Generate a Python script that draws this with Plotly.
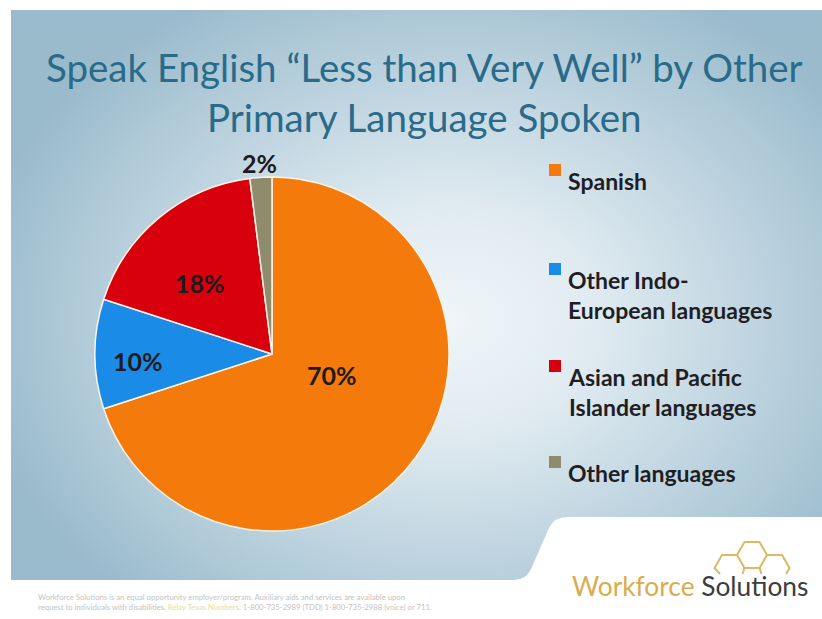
import base64
import math
import plotly.graph_objects as go

# Data
languages = [
    "Spanish",
    "Other Indo-European languages",
    "Asian and Pacific Islander languages",
    "Other languages",
]
legend_labels = [
    "Spanish",
    "Other Indo-<br>European languages",
    "Asian and Pacific<br>Islander languages",
    "Other languages",
]
share_pct = [70, 10, 18, 2]
slice_colors = ["#F47A0C", "#1A8CE8", "#D8000C", "#8E8C6C"]

W, H = 822, 619


def px_x(x):
    return x / W


def px_y(y):
    return 1 - y / H


# Slide background: soft blue panel with a cut-out lower-right corner
bg_svg = f"""<svg xmlns='http://www.w3.org/2000/svg' width='{W}' height='{H}' viewBox='0 0 {W} {H}'>
<defs>
<radialGradient id='g' gradientUnits='userSpaceOnUse' cx='450' cy='320' r='480'
 gradientTransform='translate(450 320) scale(1 0.78) translate(-450 -320)'>
<stop offset='0' stop-color='#eff5f8'/>
<stop offset='0.3' stop-color='#e0ebf1'/>
<stop offset='0.65' stop-color='#bdd3df'/>
<stop offset='1' stop-color='#9abbcc'/>
</radialGradient>
</defs>
<rect x='0' y='0' width='{W}' height='{H}' fill='#ffffff'/>
<path d='M11 10 L822 10 L822 517 L568 517 Q554 517 549 528 L531 569 Q526 580 514 580 L11 580 Z' fill='url(#g)'/>
</svg>"""
bg_uri = "data:image/svg+xml;base64," + base64.b64encode(bg_svg.encode()).decode()

# Pie geometry (pixels)
CX, CY, RAD = 272, 354, 177

fig = go.Figure()

fig.add_trace(
    go.Pie(
        labels=languages,
        values=share_pct,
        sort=False,
        direction="clockwise",
        rotation=0,
        marker=dict(colors=slice_colors, line=dict(color="#fdf3e6", width=1.5)),
        textinfo="none",
        hoverinfo="label+percent",
        showlegend=False,
        domain=dict(x=[px_x(CX - RAD), px_x(CX + RAD)], y=[px_y(CY + RAD), px_y(CY - RAD)]),
    )
)

shapes = []
annotations = []

# Percentage labels placed along each slice's mid-angle
label_radius = [0.36, 0.76, 0.57, 1.08]
label_nudge_deg = [-17, -3, -6, 0]
total = sum(share_pct)
cum = 0
for v, rf, nd in zip(share_pct, label_radius, label_nudge_deg):
    mid = (cum + v / 2) / total * 360 + nd
    cum += v
    lx = CX + rf * RAD * math.sin(math.radians(mid))
    ly = CY - rf * RAD * math.cos(math.radians(mid))
    annotations.append(
        dict(
            text=f"<b>{round(v / total * 100)}%</b>", xref="paper", yref="paper",
            x=px_x(lx), y=px_y(ly), xanchor="center", yanchor="middle",
            showarrow=False, font=dict(family="Lato", size=25, color="#1d1b1e"),
        )
    )

# Custom legend: coloured squares with wrapped labels
legend_text_y = [181, 280, 377, 473]
for lab, col, ty in zip(legend_labels, slice_colors, legend_text_y):
    shapes.append(
        dict(
            type="rect", xref="paper", yref="paper",
            x0=px_x(549), x1=px_x(561), y0=px_y(ty - 5), y1=px_y(ty - 17),
            fillcolor=col, line=dict(width=0),
        )
    )
    annotations.append(
        dict(
            text=f"<b>{lab}</b>", xref="paper", yref="paper",
            x=px_x(566), y=px_y(ty - 16), xanchor="left", yanchor="top",
            align="left", showarrow=False,
            font=dict(family="Lato", size=23, color="#1e1e24"),
        )
    )

# Title
annotations.append(
    dict(
        text="Speak English “Less than Very Well” by Other<br>Primary Language Spoken",
        xref="paper", yref="paper", x=px_x(424), y=px_y(92),
        xanchor="center", yanchor="middle", showarrow=False,
        font=dict(family="Lato", size=38.5, color="#2A6B89"),
    )
)

# Footer disclaimer
annotations.append(
    dict(
        text=(
            "Workforce Solutions is an equal opportunity employer/program. Auxiliary aids and services are available upon<br>"
            "request to individuals with disabilities. <span style='color:#e6de9a'>Relay Texas Numbers:</span> "
            "1-800-735-2989 (TDD) 1-800-735-2988 (voice) or 711."
        ),
        xref="paper", yref="paper", x=px_x(36), y=px_y(602),
        xanchor="left", yanchor="middle", align="left", showarrow=False,
        font=dict(family="Lato", size=7.7, color="#c4c4c4"),
    )
)

# Logo wordmark
annotations.append(
    dict(
        text="<span style='color:#D9AC4E'>Workforce</span> <span style='color:#3C3C3E'>Solutions</span>",
        xref="paper", yref="paper", x=px_x(690), y=px_y(586),
        xanchor="center", yanchor="middle", showarrow=False,
        font=dict(family="Lato", size=26.3),
    )
)

# Logo honeycomb outline
R = 15.0
hx = 0.866 * R


def hex_path(pts):
    return "M " + " L ".join(f"{px_x(x):.5f},{px_y(y):.5f}" for x, y in pts)


top_hex = [(752 + R, 555), (752 + R / 2, 555 - hx), (752 - R / 2, 555 - hx),
           (752 - R, 555), (752 - R / 2, 555 + hx), (752 + R / 2, 555 + hx), (752 + R, 555)]
left_half = [(731 - R + 4, 574), (729.5 - R, 568), (729.5 - R / 2, 568 - hx), (729.5 + R / 2, 568 - hx)]
right_half = [(774.5 - R / 2, 568 - hx), (774.5 + R / 2, 568 - hx), (774.5 + R, 568), (772 + R - 1, 574)]
stems = [[(752 - R / 2, 555 + hx), (752 - R / 2 - 2, 574)], [(752 + R / 2, 555 + hx), (752 + R / 2 + 2, 574)]]
for pts in (top_hex, left_half, right_half, *stems):
    shapes.append(
        dict(type="path", xref="paper", yref="paper", path=hex_path(pts),
             line=dict(color="#DDB866", width=2))
    )

fig.update_layout(
    width=W, height=H,
    margin=dict(l=0, r=0, t=0, b=0),
    paper_bgcolor="#ffffff",
    plot_bgcolor="rgba(0,0,0,0)",
    shapes=shapes,
    annotations=annotations,
    images=[dict(source=bg_uri, xref="paper", yref="paper", x=0, y=1,
                 sizex=1, sizey=1, sizing="stretch", layer="below",
                 xanchor="left", yanchor="top")],
)

fig.write_html("out.html")
